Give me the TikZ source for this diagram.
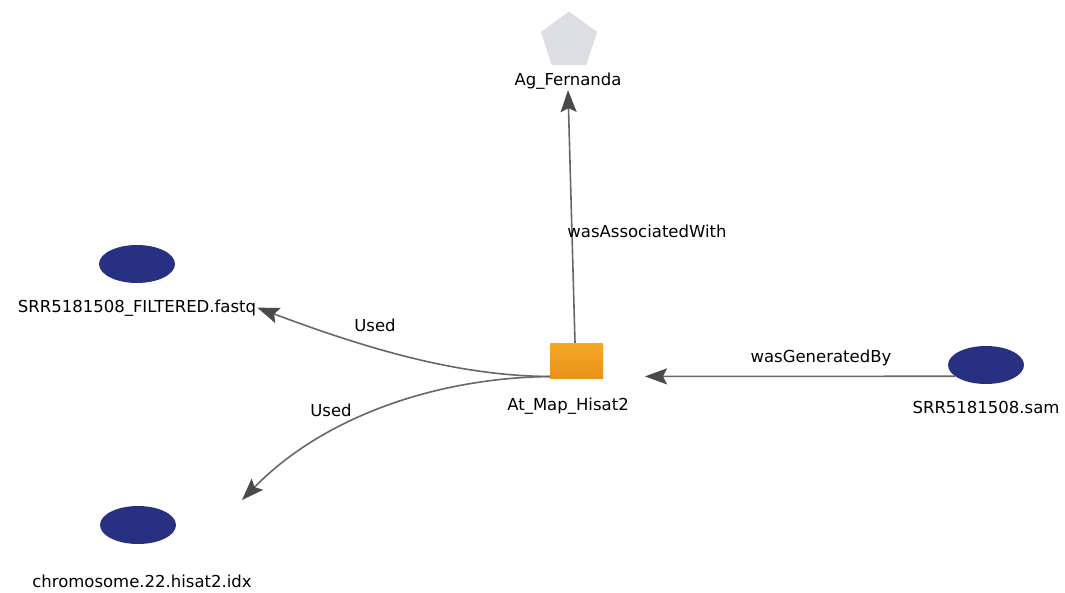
\documentclass[tikz,border=0pt]{standalone}
\usepackage{fontspec}
\setmainfont{DejaVu Sans}
\usetikzlibrary{shapes.geometric,arrows.meta}
\definecolor{navy}{HTML}{283082}
\definecolor{pent}{HTML}{DCDEE2}
\definecolor{edgec}{HTML}{666868}
\definecolor{headc}{HTML}{4A4A4A}
\definecolor{orangetop}{HTML}{F6A826}
\definecolor{orangebot}{HTML}{E8921C}
\tikzset{
  entity/.style={shape=ellipse, fill=navy, draw=none, minimum width=76pt, minimum height=38pt, inner sep=0pt},
  agent/.style={regular polygon, regular polygon sides=5, fill=pent, draw=none, minimum size=59pt, inner sep=0pt},
  activity/.style={rectangle, top color=orangetop, bottom color=orangebot, draw=none, minimum width=53pt, minimum height=35pt, inner sep=0pt},
  lbl/.style={font=\fontsize{16.5}{18}\selectfont, text=black, inner sep=1pt, anchor=base},
  edge/.style={draw=edgec, line width=1.6pt, -{Stealth[length=22pt,width=16pt,inset=4pt,color=headc]}},
}
\begin{document}
\begin{tikzpicture}[x=1pt,y=-1pt]
\useasboundingbox (0,0) rectangle (1065,592);
% nodes
\node[agent] (ag) at (569,41) {};
\node[lbl] (agl) at (568,85) {Ag\_Fernanda};
\node[activity] (act) at (576.5,360.5) {};
\node[lbl] (actl) at (568,410) {At\_Map\_Hisat2};
\node[entity] (sam) at (986,365) {};
\node[lbl] (saml) at (986,413) {SRR5181508.sam};
\node[entity] (fq) at (137,264) {};
\node[lbl] (fql) at (137,312) {SRR5181508\_FILTERED.fastq};
\node[entity] (chr) at (138,525) {};
\node[lbl] (chrl) at (142,587) {chromosome.22.hisat2.idx};
% free ends
\coordinate (gtip) at (645,376.4);
\coordinate (ctip) at (242,500);
\coordinate (astart) at (550,376.5);
% edges
\draw[edge] ([xshift=-1.5pt]act.north) -- (agl.south);
\draw[edge] (sam.200) -- (gtip);
\draw[edge] (astart) .. controls (460,376) and (370,350) .. (fql.east);
\draw[edge] (astart) .. controls (430,378) and (320,420) .. (ctip);
% edge labels
\node[lbl] (l1) at (647,237) {wasAssociatedWith};
\node[lbl] (l2) at (821,362) {wasGeneratedBy};
\node[lbl] (l3) at (375,331) {Used};
\node[lbl] (l4) at (331,416) {Used};
\end{tikzpicture}
\end{document}
